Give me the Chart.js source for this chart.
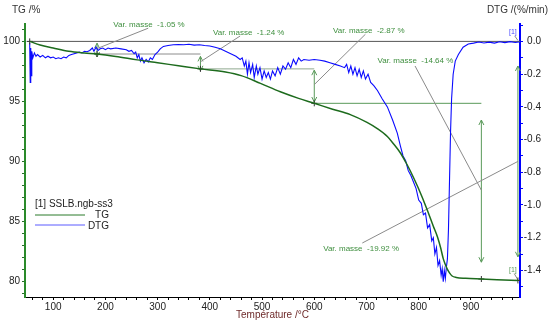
<!DOCTYPE html>
<html>
<head>
<meta charset="utf-8">
<script src="https://cdn.jsdelivr.net/npm/chart.js@4.4.1/dist/chart.umd.min.js"></script>
<style>
  body { margin: 0; background: #fff; }
  #wrap { width: 550px; height: 325px; }
</style>
</head>
<body>
<div id="wrap"><canvas id="tga" width="550" height="325"></canvas></div>
<script>
// TG curve: mass (%) against temperature (°C)
const tgTemp = [55, 75, 100, 130, 160, 184, 220, 261, 300, 340, 382, 430, 460, 497, 535, 570, 600, 635, 669, 701, 720, 740, 752, 765, 775, 784, 799, 816, 828, 836, 842, 847, 851, 855, 860, 864, 872, 890, 920, 950, 990];
const tgMass = [100.0, 99.7, 99.45, 99.17, 99.03, 98.95, 98.75, 98.46, 98.22, 97.97, 97.71, 97.45, 97.15, 96.5, 95.8, 95.25, 94.84, 94.35, 93.9, 93.25, 92.75, 92.07, 91.45, 90.7, 89.95, 89.2, 87.8, 86.0, 84.6, 83.7, 82.8, 81.9, 81.4, 81.0, 80.65, 80.45, 80.33, 80.26, 80.2, 80.14, 80.08];

// DTG curve: rate (%/min) against temperature (°C)
const dtgTemp = [55, 56, 57, 58, 59, 61, 64, 67, 70, 75, 80, 85, 90, 95, 100, 105, 110, 115, 120, 125, 130, 135, 140, 145, 150, 155, 160, 165, 170, 175, 178, 182, 186, 190, 195, 200, 205, 210, 220, 230, 240, 245, 250, 255, 258, 261, 264, 267, 270, 274, 278, 282, 286, 290, 295, 300, 305, 311, 320, 330, 340, 350, 360, 370, 380, 390, 400, 410, 420, 430, 440, 450, 458, 462, 466, 469, 472, 475, 478, 482, 485, 489, 492, 496, 500, 504, 508, 512, 516, 520, 525, 530, 535, 540, 545, 550, 555, 560, 565, 570, 575, 580, 590, 600, 611, 620, 630, 640, 650, 658, 662, 666, 670, 674, 678, 682, 686, 690, 694, 698, 703, 708, 714, 721, 730, 740, 750, 759, 765, 770, 775, 780, 785, 790, 795, 800, 805, 809, 813, 817, 821, 825, 828, 831, 834, 837, 840, 843, 845, 847, 849, 851, 853, 855, 857, 859, 861, 863, 866, 870, 876, 885, 895, 905, 915, 925, 935, 945, 955, 965, 975, 985, 992];
const dtgRate = [-0.01, -0.25, -0.04, -0.21, -0.06, -0.1, -0.07, -0.09, -0.08, -0.095, -0.085, -0.1, -0.09, -0.1, -0.095, -0.105, -0.1, -0.105, -0.095, -0.1, -0.085, -0.08, -0.075, -0.07, -0.065, -0.07, -0.06, -0.063, -0.055, -0.04, -0.06, -0.035, -0.055, -0.045, -0.04, -0.05, -0.04, -0.045, -0.04, -0.045, -0.05, -0.06, -0.055, -0.075, -0.065, -0.1, -0.08, -0.12, -0.1, -0.13, -0.11, -0.125, -0.1, -0.11, -0.08, -0.065, -0.045, -0.03, -0.025, -0.02, -0.018, -0.02, -0.017, -0.022, -0.02, -0.025, -0.028, -0.035, -0.045, -0.06, -0.075, -0.09, -0.11, -0.1, -0.15, -0.12, -0.2, -0.13, -0.19, -0.14, -0.22, -0.15, -0.2, -0.16, -0.23, -0.18, -0.22, -0.19, -0.23, -0.18, -0.21, -0.16, -0.2, -0.15, -0.17, -0.13, -0.16, -0.11, -0.14, -0.1, -0.12, -0.11, -0.115, -0.11, -0.115, -0.12, -0.13, -0.14, -0.15, -0.16, -0.14, -0.19, -0.15, -0.2, -0.16, -0.21, -0.17, -0.22, -0.18, -0.23, -0.2, -0.25, -0.27, -0.3, -0.35, -0.4, -0.48, -0.56, -0.64, -0.7, -0.73, -0.79, -0.82, -0.86, -0.9, -0.97, -0.99, -1.06, -1.05, -1.14, -1.12, -1.22, -1.2, -1.3, -1.26, -1.37, -1.34, -1.43, -1.39, -1.47, -1.4, -1.45, -1.38, -1.33, -1.15, -0.85, -0.55, -0.35, -0.2, -0.12, -0.08, -0.035, -0.015, -0.01, -0.003, -0.009, -0.004, -0.01, -0.002, -0.007, -0.001, -0.006, -0.003];

// mass-loss steps (temperature, mass) and their labels
const stepTemp = [55, 184, 382, 600, 920, 990];
const stepMass = [100, 98.95, 97.71, 94.84, 80.2, 80.08];
const stepLabels = ['Var. masse  -1.05 %', 'Var. masse  -1.24 %', 'Var. masse  -2.87 %', 'Var. masse  -14.64 %', 'Var. masse  -19.92 %'];

// tick labels
const tempTickLabels = [100, 200, 300, 400, 500, 600, 700, 800, 900];
const tgTickLabels = [80, 85, 90, 95, 100];
const dtgTickLabels = [0, -0.2, -0.4, -0.6, -0.8, -1.0, -1.2, -1.4];

const FONT = "'Liberation Sans', Arial, sans-serif";

// annotation layout in data units (temperature, TG %)
const levelLines = [
  {m: 98.95, from: 184, to: 382, color: '#8c8c8c'},
  {m: 97.71, from: 382, to: 600, color: '#8fa88f'},
  {m: 94.84, from: 600, to: 920, color: '#5a9a5a'}
];
const arrows = [
  {t: 184, from: 99.85, to: 98.7},
  {t: 382, from: 98.75, to: 97.55},
  {t: 600, from: 97.6, to: 94.95},
  {t: 920, from: 93.45, to: 81.6},
  {t: 990, from: 97.95, to: 82.05}
];
const labelPos = [[215, 101.4], [406, 100.75], [636, 100.9], [721, 98.37], [617, 82.7]];
const leaders = [
  [[282, 101.1], [184, 99.4]],
  [[458, 100.45], [382, 98.3]],
  [[698, 100.6], [600, 96.4]],
  [[793, 97.95], [920, 87.6]],
  [[692, 83.2], [990, 90.0]]
];

function line(ctx, x1, y1, x2, y2) {
  ctx.beginPath(); ctx.moveTo(x1, y1); ctx.lineTo(x2, y2); ctx.stroke();
}
function head(ctx, x, y, dir) {
  ctx.beginPath();
  ctx.moveTo(x - 2.5, y + dir * 5); ctx.lineTo(x, y); ctx.lineTo(x + 2.5, y + dir * 5);
  ctx.stroke();
}

const tgAnnotations = {
  id: 'tgAnnotations',
  beforeDatasetsDraw(chart) {
    const {ctx, scales: {x, y}} = chart;
    const px = t => x.getPixelForValue(t), py = m => y.getPixelForValue(m);
    ctx.save();
    ctx.lineWidth = 1;
    ctx.strokeStyle = '#555';
    line(ctx, px(55), py(100), px(994), py(100));
    levelLines.forEach(l => {
      ctx.strokeStyle = l.color;
      line(ctx, px(l.from), py(l.m), px(l.to), py(l.m));
    });
    ctx.strokeStyle = '#5a9a5a';
    arrows.forEach(a => {
      const X = px(a.t), y1 = py(a.from), y2 = py(a.to);
      line(ctx, X, y1, X, y2);
      head(ctx, X, y1, 1);
      head(ctx, X, y2, -1);
    });
    ctx.strokeStyle = '#8a8a8a';
    leaders.forEach(([p, q]) => line(ctx, px(p[0]), py(p[1]), px(q[0]), py(q[1])));
    // [1] end markers
    line(ctx, px(984), py(100.45), px(990), py(100.08));
    line(ctx, px(983), py(80.65), px(990), py(80.12));
    ctx.restore();
  },
  afterDraw(chart) {
    const {ctx, chartArea: a, scales: {x, y}} = chart;
    const px = t => x.getPixelForValue(t), py = m => y.getPixelForValue(m);
    ctx.save();
    ctx.textBaseline = 'middle';
    ctx.font = '8px ' + FONT;
    ctx.fillStyle = '#3f8f3f';
    ctx.textAlign = 'left';
    stepLabels.forEach((s, i) => ctx.fillText(s, px(labelPos[i][0]), py(labelPos[i][1])));
    ctx.font = '7px ' + FONT;
    ctx.fillStyle = '#4a4aff';
    ctx.fillText('[1]', px(973), py(100.75));
    ctx.fillStyle = '#5a9a5a';
    ctx.fillText('[1]', px(973), py(80.95));

    // axis titles
    ctx.font = '10px ' + FONT;
    ctx.fillStyle = '#333';
    ctx.fillText('TG /%', 12, 10);
    ctx.textAlign = 'right';
    ctx.fillText('DTG /(%/min)', 548, 10);
    ctx.textAlign = 'center';
    ctx.fillStyle = '#6e2a2a';
    ctx.fillText('Température /°C', (a.left + a.right) / 2, 315);

    // legend
    const lx = a.left + 10, ly = 204;
    ctx.textAlign = 'left';
    ctx.fillStyle = '#222';
    ctx.fillText('[1] SSLB.ngb-ss3', lx, ly);
    ctx.textAlign = 'right';
    ctx.lineWidth = 1;
    ctx.strokeStyle = '#2a7a2a';
    line(ctx, lx, ly + 11, lx + 50, ly + 11);
    ctx.fillText('TG', lx + 74, ly + 11);
    ctx.strokeStyle = '#5b5bff';
    line(ctx, lx, ly + 21, lx + 50, ly + 21);
    ctx.fillText('DTG', lx + 74, ly + 22);
    ctx.restore();
  }
};

const tempTicks = [];
for (let t = 60; t <= 980; t += 20) tempTicks.push(t);
const tgTicks = [];
for (let m = 79; m <= 101; m++) tgTicks.push(m);
const dtgTicks = [];
for (let k = 1; k >= -15; k--) dtgTicks.push(k / 10);

new Chart(document.getElementById('tga'), {
  type: 'line',
  data: {
    datasets: [
      {
        label: 'TG',
        data: tgTemp.map((t, i) => ({x: t, y: tgMass[i]})),
        yAxisID: 'y',
        borderColor: '#1d6b1d',
        borderWidth: 1.5,
        pointRadius: 0,
        cubicInterpolationMode: 'monotone'
      },
      {
        label: 'steps',
        type: 'scatter',
        data: stepTemp.map((t, i) => ({x: t, y: stepMass[i]})),
        yAxisID: 'y',
        pointStyle: 'cross',
        pointRadius: 3,
        borderColor: '#333',
        borderWidth: 1,
        showLine: false
      },
      {
        label: 'DTG',
        data: dtgTemp.map((t, i) => ({x: t, y: dtgRate[i]})),
        yAxisID: 'y2',
        borderColor: '#0a0aff',
        borderWidth: 1.1,
        pointRadius: 0,
        tension: 0
      }
    ]
  },
  options: {
    responsive: false,
    animation: false,
    events: [],
    layout: {padding: {top: 24, left: 0, right: 9, bottom: 0}},
    plugins: {legend: {display: false}, tooltip: {enabled: false}},
    scales: {
      x: {
        type: 'linear', position: 'bottom', min: 46, max: 994,
        border: {color: '#000', width: 1},
        grid: {drawOnChartArea: false, tickLength: 3, tickColor: '#000'},
        ticks: {
          autoSkip: false, maxRotation: 0, padding: 1, color: '#222',
          font: {family: FONT, size: 10},
          callback: v => tempTickLabels.includes(v) ? String(v) : ''
        },
        afterBuildTicks: s => { s.ticks = tempTicks.map(v => ({value: v})); },
        afterFit: s => { s.height = 28; }
      },
      y: {
        type: 'linear', position: 'left', min: 78.7, max: 101.45,
        border: {color: '#2a8a2a', width: 2},
        grid: {drawOnChartArea: false, tickLength: 3, tickColor: '#2a6a2a'},
        ticks: {
          autoSkip: false, padding: 2, color: '#222',
          font: {family: FONT, size: 10},
          callback: v => tgTickLabels.includes(v) ? String(v) : ''
        },
        afterBuildTicks: s => { s.ticks = tgTicks.map(v => ({value: v})); },
        afterFit: s => { s.width = 25; }
      },
      y2: {
        type: 'linear', position: 'right', min: -1.563, max: 0.107,
        border: {color: '#0000ff', width: 2},
        grid: {drawOnChartArea: false, tickLength: 3, tickColor: '#0000ff'},
        ticks: {
          autoSkip: false, padding: 2, color: '#222', crossAlign: 'far',
          font: {family: FONT, size: 10},
          callback: v => dtgTickLabels.some(d => Math.abs(d - v) < 1e-6) ? v.toFixed(1) : ''
        },
        afterBuildTicks: s => { s.ticks = dtgTicks.map(v => ({value: v})); },
        afterFit: s => { s.width = 21; }
      }
    }
  },
  plugins: [tgAnnotations]
});
</script>
</body>
</html>
